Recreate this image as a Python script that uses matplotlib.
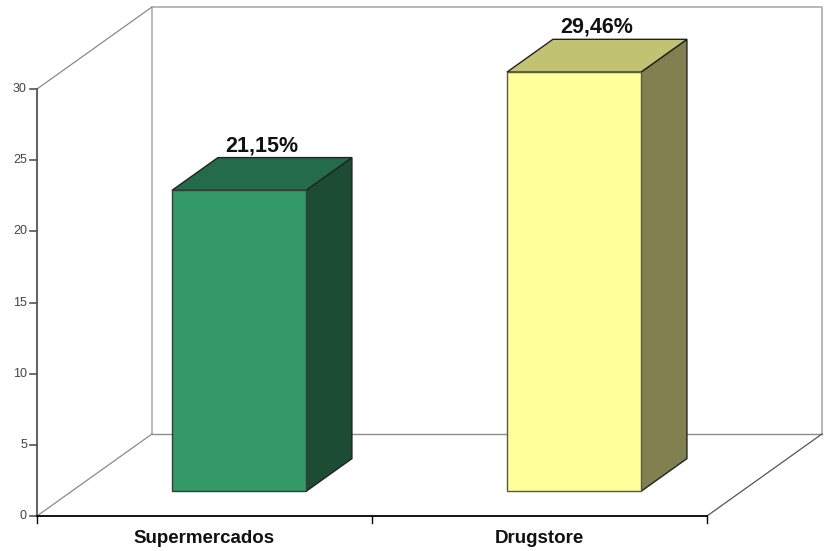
import matplotlib.pyplot as plt
from matplotlib.patches import Polygon

# Values
categories = ['Supermercados', 'Drugstore']
values = [21.15, 29.46]
valueLabels = ['21,15%', '29,46%']
yTicks = [0, 5, 10, 15, 20, 25, 30]

frontColors = ['#339966', '#FFFF99']
topColors = ['#246B4A', '#C2C273']
sideColors = ['#1C4D34', '#808050']

figW = 8.28
figH = 5.51
dpi = 100

# 3d look: depth offset in data units, bar occupies depth 0.3 .. 0.7
depthX = 0.343
depthY = 5.76
barWidth = 0.40
barDepthStart = 0.3
barDepthEnd = 0.7
yMax = 30

fig = plt.figure(figsize=(figW, figH), dpi=dpi)
ax = fig.add_axes([0, 0, 1, 1])
ax.set_xlim(-0.6104, 1.8612)
ax.set_ylim(-2.459, 36.254)
ax.axis('off')

left = -0.5
right = len(categories) - 0.5

# back wall and floor
wallColor = '#ABABAB'
ax.plot([left + depthX, left + depthX, right + depthX, right + depthX],
        [depthY, yMax + depthY, yMax + depthY, depthY], color=wallColor, lw=1.2)
ax.plot([left + depthX, right + depthX], [depthY, depthY], color='#8C8C8C', lw=1.0)
diagColor = '#8A8A8A'
ax.plot([left, left + depthX], [0, depthY], color=diagColor, lw=0.9)
ax.plot([left, left + depthX], [yMax, yMax + depthY], color=diagColor, lw=0.9)
ax.plot([right, right + depthX], [0, depthY], color='#555555', lw=0.9)

# y axis
ax.plot([left, left], [0, yMax], color='#666666', lw=1.5)
for t in yTicks:
    ax.plot([left - 0.02, left], [t, t], color='#555555', lw=1.2)
    ax.text(left - 0.03, t, str(t), ha='right', va='center', fontsize=9,
            color='#444444', family='Liberation Sans')

# x axis
ax.plot([left, right], [0, 0], color='black', lw=1.3)
for i in range(len(categories) + 1):
    ax.plot([left + i, left + i], [0, -0.5], color='black', lw=1.0)
for i, name in enumerate(categories):
    ax.text(i, -1.55, name, ha='center', va='center', fontsize=13.5,
            fontweight='bold', family='Liberation Sans', color='#111111')

# bars
for i, v in enumerate(values):
    x0 = i - barWidth / 2 + barDepthStart * depthX
    x1 = x0 + barWidth
    y0 = barDepthStart * depthY
    y1 = v + barDepthStart * depthY
    d = barDepthEnd - barDepthStart
    ddx = d * depthX
    ddy = d * depthY
    edge = '#3A3A3A' if i == 0 else '#5A5A40'
    front = Polygon([(x0, y0), (x1, y0), (x1, y1), (x0, y1)], closed=True,
                    facecolor=frontColors[i], edgecolor=edge, lw=1.0, zorder=3)
    top = Polygon([(x0, y1), (x1, y1), (x1 + ddx, y1 + ddy), (x0 + ddx, y1 + ddy)],
                  closed=True, facecolor=topColors[i], edgecolor='#222222', lw=1.0, zorder=3)
    side = Polygon([(x1, y0), (x1 + ddx, y0 + ddy), (x1 + ddx, y1 + ddy), (x1, y1)],
                   closed=True, facecolor=sideColors[i], edgecolor='#222222', lw=1.0, zorder=3)
    ax.add_patch(side)
    ax.add_patch(top)
    ax.add_patch(front)
    ax.text(i + (barDepthStart + barDepthEnd) / 2 * depthX, y1 + ddy + 0.45,
            valueLabels[i], ha='center', va='baseline', fontsize=15.5,
            fontweight='bold', family='Liberation Sans', color='#111111', zorder=4)

plt.savefig('out.png', dpi=dpi)
plt.close()
